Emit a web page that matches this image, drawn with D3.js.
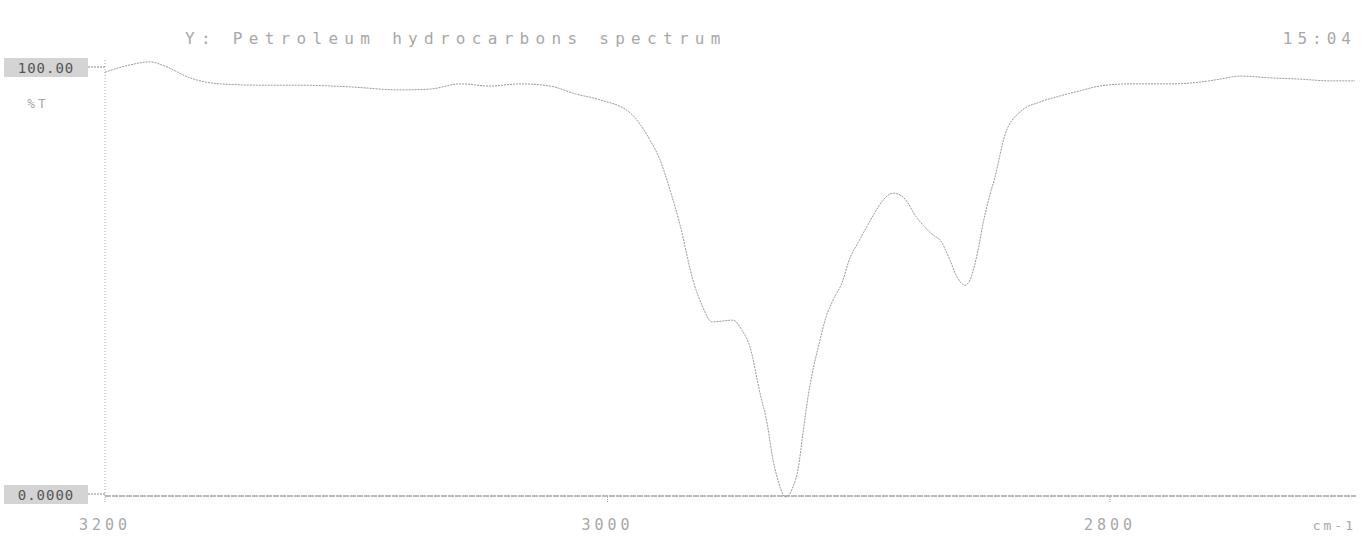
<!DOCTYPE html>
<html><head><meta charset="utf-8">
<script src="https://cdn.jsdelivr.net/npm/d3@7"></script>
<style>
html,body{margin:0;padding:0;background:#fff;}
svg{display:block;}
text{font-family:"DejaVu Sans Mono",monospace;}
</style></head>
<body><svg id="c" width="1369" height="552"></svg>
<script>
const title = "Y: Petroleum hydrocarbons spectrum";
const timeLabel = "15:04";
const yAxisLabel = "%T";
const xUnitLabel = "cm-1";
const xTicks = [3200, 3000, 2800];
const xTickLabels = ["3200", "3000", "2800"];
const yTicks = [100, 0];
const yTickLabels = ["100.00", "0.0000"];
const wavenumber = [3200,3190.0,3182.1,3176.1,3166.2,3154.2,3138.3,3122.4,3102.5,3082.6,3070.6,3058.7,3046.8,3034.8,3022.9,3012.9,3003.0,2991.0,2983.1,2979.1,2975.1,2971.1,2966.0,2962.4,2958.4,2950.0,2946.5,2943.3,2939.3,2936.5,2934.1,2932.5,2930.9,2929.4,2927.8,2926.2,2924.2,2922.2,2920.2,2918.2,2915.4,2913.4,2910.2,2906.7,2903.5,2900.3,2897.1,2893.5,2890.3,2886.4,2882.8,2880.4,2877.6,2874.4,2870.4,2867.7,2863.7,2860.9,2857.7,2855.7,2853.7,2851.7,2850.5,2849.0,2847.8,2845.8,2841.8,2835.8,2827.9,2819.9,2811.9,2804.0,2792.0,2776.1,2764.2,2756.2,2748.3,2736.3,2724.4,2712.4,2702.5];
const transmittance = [98.1,99.8,100.5,99.5,96.8,95.4,95.1,95.1,94.7,94.0,94.2,95.4,94.9,95.4,94.9,93.1,91.7,88.7,82.4,77.8,70.8,62.7,50.0,44.2,40.3,40.7,38.4,34.5,23.8,16.9,8.3,4.4,1.4,-0.2,0.2,2.1,6.0,14.6,22.9,29.2,36.1,40.7,45.4,49.3,55.1,58.6,62.0,65.7,68.5,70.1,69.4,67.8,65.0,62.7,60.4,59.3,54.6,50.7,48.8,50.0,53.9,59.3,63.2,66.9,69.7,73.8,83.6,88.9,91.2,92.6,93.8,94.9,95.4,95.4,95.8,96.5,97.2,96.8,96.5,96.1,96.1];

const svg = d3.select("#c");
const x = d3.scaleLinear().domain([3200, 2800]).range([105, 1110]);
const y = d3.scaleLinear().domain([0, 100]).range([496, 64]);
const grey = "#a8a8a8";

// title & time
svg.append("text").attr("x", 185).attr("y", 44).attr("font-size", 16).attr("fill", grey)
  .attr("letter-spacing", "6.3px").text(title);
svg.append("text").attr("x", 1356).attr("y", 44).attr("font-size", 16).attr("fill", grey)
  .attr("text-anchor", "end").attr("letter-spacing", "5px").text(timeLabel);

// axes
svg.append("line").attr("x1", 105).attr("x2", 105).attr("y1", 60).attr("y2", 496)
  .attr("stroke", grey).attr("stroke-dasharray", "1,2");
svg.append("line").attr("x1", 105).attr("x2", 1356).attr("y1", 496).attr("y2", 496)
  .attr("stroke", "#777").attr("stroke-dasharray", "6,1");

// x ticks
xTicks.forEach((t, i) => {
  svg.append("line").attr("x1", x(t)).attr("x2", x(t)).attr("y1", 497).attr("y2", 503)
    .attr("stroke", grey).attr("stroke-dasharray", "1,1");
  svg.append("text").attr("x", x(t)).attr("y", 530).attr("font-size", 15).attr("fill", grey)
    .attr("text-anchor", "middle").attr("letter-spacing", "4px").text(xTickLabels[i]);
});
svg.append("text").attr("x", 1356).attr("y", 530).attr("font-size", 13).attr("fill", grey)
  .attr("text-anchor", "end").attr("letter-spacing", "3px").text(xUnitLabel);

// y tick labels in boxes
yTicks.forEach((t, i) => {
  const yy = i === 0 ? y(t) + 3 : y(t) - 2;
  svg.append("rect").attr("x", 4).attr("y", yy - 9).attr("width", 84).attr("height", 19)
    .attr("fill", "#d4d4d4");
  svg.append("text").attr("x", 46).attr("y", yy + 6).attr("font-size", 14).attr("fill", "#555")
    .attr("text-anchor", "middle").attr("letter-spacing", "1px").text(yTickLabels[i]);
  svg.append("line").attr("x1", 88).attr("x2", 105).attr("y1", yy).attr("y2", yy)
    .attr("stroke", "#888").attr("stroke-dasharray", "2,1");
});
svg.append("text").attr("x", 38).attr("y", 108).attr("font-size", 13).attr("fill", grey)
  .attr("text-anchor", "middle").attr("letter-spacing", "3px").text(yAxisLabel);

// spectrum
const data = wavenumber.map((w, i) => ({w, t: transmittance[i]}));
svg.append("path").datum(data)
  .attr("d", d3.line().x(d => x(d.w)).y(d => y(d.t)).curve(d3.curveMonotoneX))
  .attr("fill", "none").attr("stroke", "#999").attr("stroke-width", 1)
  .attr("stroke-dasharray", "2,1");
</script></body></html>
